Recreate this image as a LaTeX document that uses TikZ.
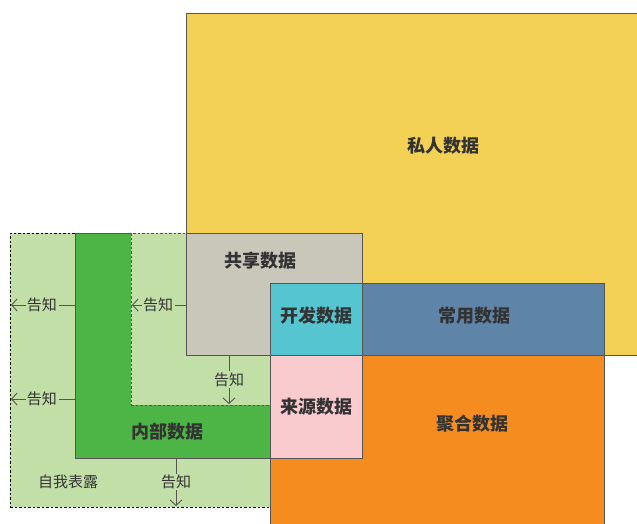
\documentclass[tikz,border=0pt]{standalone}
\usepackage{fontspec}
\setmainfont{Noto Sans CJK SC}
\usetikzlibrary{arrows.meta}
\definecolor{cyellow}{HTML}{F2D155}
\definecolor{cgray}{HTML}{C9C6BA}
\definecolor{ccyan}{HTML}{55C5D0}
\definecolor{cblue}{HTML}{5E84A8}
\definecolor{cpink}{HTML}{F9CBCF}
\definecolor{corange}{HTML}{F48C1F}
\definecolor{cdgreen}{HTML}{4DB546}
\definecolor{clgreen}{HTML}{C2DFA8}
\definecolor{cedge}{HTML}{555555}
\definecolor{ctext}{HTML}{333333}
\tikzset{
  region/.style={draw=cedge, line width=0.9pt, inner sep=0pt, outer sep=0pt, anchor=north west},
  dregion/.style={region, dashed, dash pattern=on 2.5pt off 2pt},
  biglabel/.style={text=ctext, font=\fontsize{18}{20}\selectfont\bfseries, inner sep=1pt},
  smalllabel/.style={text=ctext, font=\fontsize{15}{17}\selectfont, inner sep=1pt},
  tell/.style={draw=cedge, line width=0.9pt, -{Straight Barb[length=5.5pt,width=12pt]}},
  telltext/.style={smalllabel, fill=clgreen, inner sep=1.5pt},
}
\begin{document}
\begin{tikzpicture}[x=1pt,y=-1pt]
\useasboundingbox (0,0) rectangle (637,523);
% private
\node[region, fill=cyellow, minimum width=460pt, minimum height=342pt] (priv) at (186,13) {};
% self disclosure (outer dashed)
\node[dregion, draw=black, fill=clgreen, minimum width=352pt, minimum height=274pt] (self) at (10,233) {};
% internal (dark green L)
\node[region, fill=cdgreen, minimum width=195pt, minimum height=225pt] (intern) at (75,233) {};
% inner dashed light region
\node[dregion, fill=clgreen, minimum width=139pt, minimum height=172pt] (inner) at (131,233) {};
% shared
\node[region, fill=cgray, minimum width=176pt, minimum height=122pt] (shared) at (186,233) {};
% aggregate
\node[region, fill=corange, minimum width=334pt, minimum height=180pt] (agg) at (270,355) {};
% develop
\node[region, fill=ccyan, minimum width=92pt, minimum height=72pt] (dev) at (270,283) {};
% common
\node[region, fill=cblue, minimum width=242pt, minimum height=72pt] (common) at (362,283) {};
% source
\node[region, fill=cpink, minimum width=92pt, minimum height=103pt] (src) at (270,355) {};

% labels
\node[biglabel] (lpriv) at (443,146) {私人数据};
\node[biglabel] (lshared) at (260,261) {共享数据};
\node[biglabel] (ldev) at (316,316) {开发数据};
\node[biglabel] (lcommon) at (474,316) {常用数据};
\node[biglabel] (lsrc) at (316,407) {来源数据};
\node[biglabel] (lagg) at (472,424) {聚合数据};
\node[biglabel] (lintern) at (167,432) {内部数据};
\node[smalllabel] (lself) at (68,482) {自我表露};

% tell arrows
\coordinate (a1s) at (75,305);  \coordinate (a1e) at (11,305);
\coordinate (a2s) at (75,399);  \coordinate (a2e) at (11,399);
\coordinate (a3s) at (186,305); \coordinate (a3e) at (132,305);
\coordinate (a4s) at (229,355); \coordinate (a4e) at (229,404);
\coordinate (a5s) at (176,458); \coordinate (a5e) at (176,506);
\draw[tell] (a1s) -- node[telltext, xshift=-1pt] {告知} (a1e);
\draw[tell] (a2s) -- node[telltext, xshift=-1pt] {告知} (a2e);
\draw[tell] (a3s) -- node[telltext, xshift=-1pt] {告知} (a3e);
\draw[tell] (a4s) -- node[telltext] {告知} (a4e);
\draw[tell] (a5s) -- node[telltext] {告知} (a5e);
\end{tikzpicture}
\end{document}
